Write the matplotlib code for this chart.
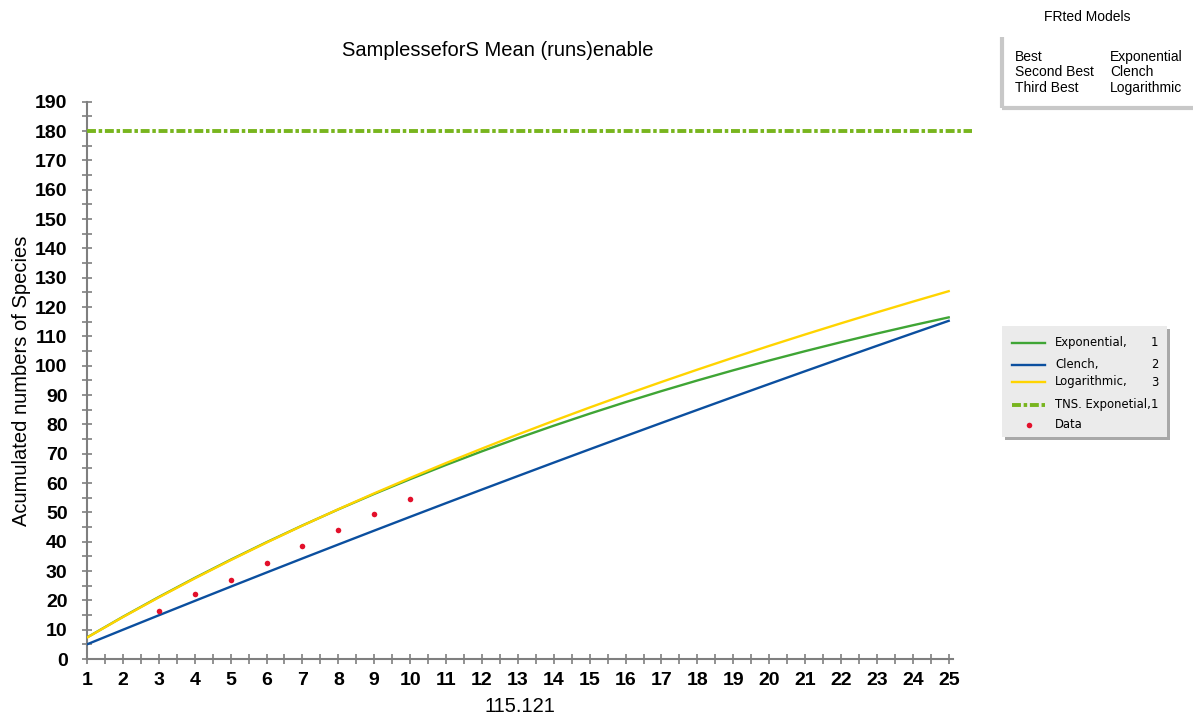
import matplotlib
matplotlib.use("Agg")
import matplotlib.pyplot as plt
from matplotlib import font_manager
from matplotlib.patches import Rectangle
from matplotlib.lines import Line2D
from matplotlib.ticker import MultipleLocator

plt.rcParams['font.family'] = ['Liberation Sans', 'DejaVu Sans']

# Samples (x) and fitted accumulation curves
samples = list(range(1, 26))
exponential = [7.34, 14.39, 21.14, 27.63, 33.84, 39.81, 45.53, 51.01, 56.28, 61.32,
               66.17, 70.81, 75.27, 79.54, 83.64, 87.57, 91.34, 94.96, 98.43, 101.76,
               104.95, 108.01, 110.95, 113.77, 116.47]
clench = [5.00, 9.97, 14.90, 19.79, 24.65, 29.48, 34.28, 39.04, 43.77, 48.47,
          53.14, 57.77, 62.37, 66.95, 71.49, 76.00, 80.48, 84.93, 89.36, 93.75,
          98.12, 102.45, 106.76, 111.04, 115.29]
logarithmic = [7.30, 14.30, 21.01, 27.47, 33.69, 39.68, 45.47, 51.06, 56.48, 61.72,
               66.81, 71.74, 76.54, 81.20, 85.74, 90.15, 94.45, 98.65, 102.74, 106.74,
               110.64, 114.45, 118.18, 121.83, 125.40]
tns_exponential = 180
data_x = [3, 4, 5, 6, 7, 8, 9, 10]
data_y = [16.3, 22.0, 26.9, 32.7, 38.5, 43.9, 49.4, 54.7]

series_names = ["Exponential,", "Clench,", "Logarithmic,", "TNS. Exponetial,", "Data"]
series_ranks = ["1", "2", "3", "1", ""]
ranking = [("Best", "Exponential"), ("Second Best", "Clench"), ("Third Best", "Logarithmic")]

C_EXP = "#3fa535"
C_CLE = "#0b4f9f"
C_LOG = "#ffd400"
C_TNS = "#78b51e"
C_DAT = "#e3102b"
C_AX = "#7f7f7f"
TNS_LW = 2.8
TNS_DASH = (2.3, 0.7, 0.9, 0.7)

# Legend labels use a narrow face when one is available
legend_font = dict(family=['Liberation Sans', 'DejaVu Sans'], size=9)
for f in font_manager.fontManager.ttflist:
    if f.name == 'Liberation Sans Narrow' and f.weight in (400, 'normal', 'regular'):
        legend_font = dict(family=['Liberation Sans Narrow'], size=10.5)
        break
else:
    for f in font_manager.fontManager.ttflist:
        if f.name == 'DejaVu Sans' and 'Condensed' in f.fname and 'Bold' not in f.fname \
                and 'Oblique' not in f.fname:
            legend_font = dict(family=['DejaVu Sans'], stretch='condensed', size=9.3)
            break

W, H = 1193, 717
fig = plt.figure(figsize=(W / 100, H / 100), dpi=100)
ax = fig.add_axes([87 / W, 1 - 659 / H, (953 - 87) / W, (659 - 101.7) / H])

ax.plot(samples, exponential, color=C_EXP, lw=1.7, zorder=3)
ax.plot(samples, clench, color=C_CLE, lw=1.7, zorder=3)
ax.plot(samples, logarithmic, color=C_LOG, lw=1.7, zorder=3)
ax.plot([1, 25.65], [tns_exponential, tns_exponential], color=C_TNS, lw=TNS_LW,
        dashes=TNS_DASH, clip_on=False, zorder=3)
ax.plot(data_x, data_y, 'o', color=C_DAT, ms=4, mew=0, zorder=4)

ax.set_xlim(1, 25.12)
ax.set_ylim(0, 190)
for s in ("top", "right"):
    ax.spines[s].set_visible(False)
for s in ("left", "bottom"):
    ax.spines[s].set_color(C_AX)
    ax.spines[s].set_linewidth(1.5)

ax.xaxis.set_major_locator(MultipleLocator(1))
ax.xaxis.set_minor_locator(MultipleLocator(0.5))
ax.yaxis.set_major_locator(MultipleLocator(10))
ax.yaxis.set_minor_locator(MultipleLocator(5))
ax.tick_params(which="both", direction="inout", color=C_AX, width=1.2, length=7)
ax.tick_params(axis="x", pad=6)
ax.tick_params(axis="y", pad=10.5)
for lab in ax.get_xticklabels() + ax.get_yticklabels():
    lab.set_fontweight("bold")
    lab.set_fontsize(14)

ax.set_xlabel("115.121", fontsize=14.5, labelpad=5.5)
ax.set_ylabel("Acumulated numbers of Species", fontsize=14.5, labelpad=3)
fig.text(498 / W, 1 - 50 / H, "SamplesseforS Mean (runs)enable", fontsize=14.5,
         ha="center", va="center")

# Overlay axes in pixel coordinates for the side boxes
ov = fig.add_axes([0, 0, 1, 1], facecolor="none")
ov.set_xlim(0, W)
ov.set_ylim(H, 0)
ov.axis("off")

# Ranking box
ov.text(1087, 17, "FRted Models", fontsize=10, ha="center", va="center")
ov.add_patch(Rectangle((1002, 37), 190, 71, facecolor="white", edgecolor="none"))
ov.plot([1002, 1002], [37, 108], color="#c8c8c8", lw=3, solid_capstyle="butt")
ov.plot([1002, 1193], [108, 108], color="#c8c8c8", lw=3, solid_capstyle="butt")
for i, (rank, model) in enumerate(ranking):
    y = 57 + i * 15.5
    ov.text(1015, y, rank, fontsize=10, ha="left", va="center")
    ov.text(1110, y, model, fontsize=10, ha="left", va="center")

# Series legend box
ov.add_patch(Rectangle((1005, 329), 165, 111, facecolor="#a8a8a8", edgecolor="none"))
ov.add_patch(Rectangle((1002, 326), 165, 111, facecolor="#ebebeb", edgecolor="none"))
rows_y = [342.5, 364.5, 382, 404.5, 424.5]
styles = [
    dict(color=C_EXP, lw=1.7),
    dict(color=C_CLE, lw=1.7),
    dict(color=C_LOG, lw=1.7),
    dict(color=C_TNS, lw=TNS_LW, dashes=TNS_DASH),
]
for i, y in enumerate(rows_y):
    if i < 4:
        ov.add_line(Line2D([1012, 1045], [y, y], **styles[i]))
    else:
        ov.plot([1029], [y], 'o', color=C_DAT, ms=4, mew=0)
    ov.text(1055, y, series_names[i], ha="left", va="center", **legend_font)
    if series_ranks[i]:
        ov.text(1158, y, series_ranks[i], ha="right", va="center", **legend_font)

fig.savefig("out.png", dpi=100)
